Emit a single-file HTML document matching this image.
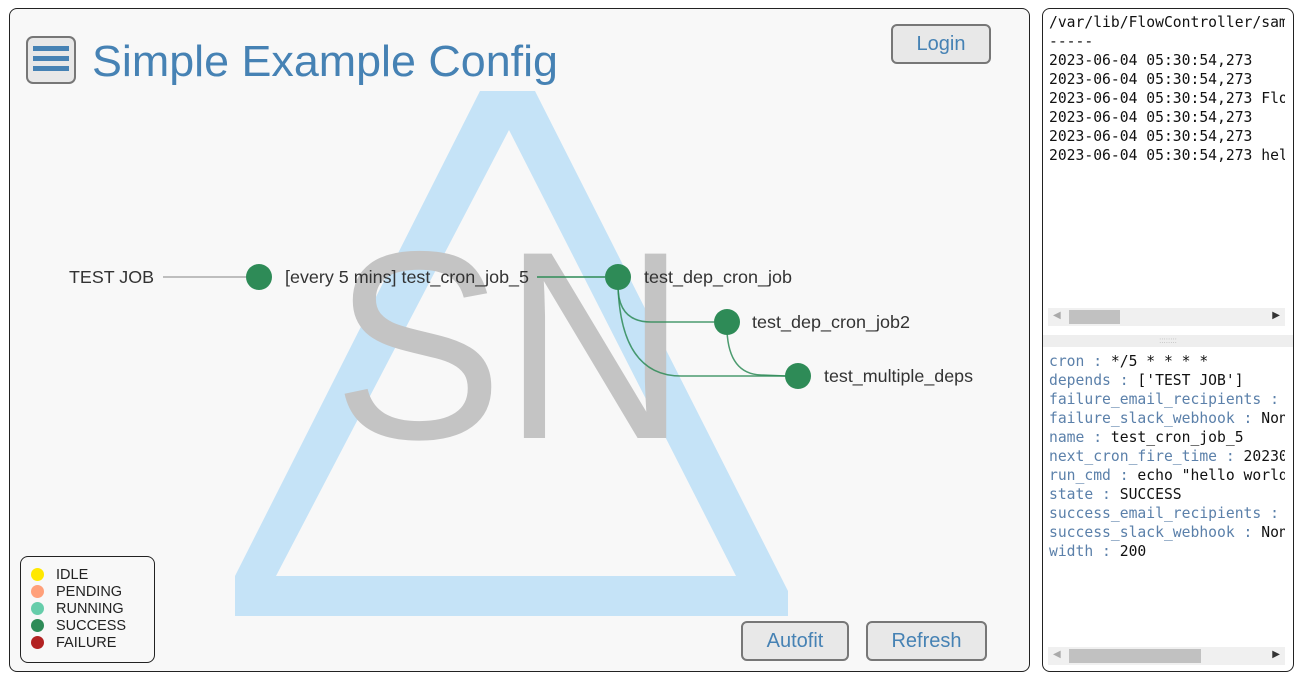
<!DOCTYPE html>
<html><head><meta charset="utf-8"><style>
body{margin:0;width:1301px;height:673px;background:#fff;position:relative;overflow:hidden;font-family:"Liberation Sans",sans-serif}
.main{position:absolute;left:9px;top:8px;width:1019px;height:662px;border:1px solid #222;border-radius:8px;background:#f8f8f8;overflow:hidden}
.side{position:absolute;left:1042px;top:8px;width:250px;height:662px;border:1px solid #222;border-radius:8px;background:#fff;overflow:hidden}
.btn{position:absolute;background:#e8e8e8;border:2px solid #777;border-radius:6px;color:#4682b4;font-size:20px;text-align:center;box-sizing:border-box}
.mono{font-family:"DejaVu Sans Mono","Liberation Mono",monospace;font-size:14.7px;line-height:19px;white-space:pre;position:absolute;left:6px;width:236px;overflow:hidden;color:#111}
.k{color:#5b80aa}
.sb{position:absolute;left:5px;width:237px;height:18px;background:#f0f0f0}
.th{position:absolute;top:2px;height:14px;background:#c1c1c1}
</style></head><body>
<div class="main">
<svg width="1019" height="662" style="position:absolute;left:0;top:0">
<g transform="translate(-9,-8)">
<path fill-rule="evenodd" fill="#c5e3f7" d="M479,90 L534,90 L787,590 L787,615 L234,615 L234,575 Z M508,129 L735,575 L275,575 Z"/>
<rect x="85" y="24" width="475" height="64" fill="#f8f8f8" opacity="0.6"/>
<text x="332" y="437" font-family="Liberation Sans" font-size="268" fill="#c4c4c4" textLength="354" lengthAdjust="spacingAndGlyphs">SN</text>
<line x1="162" y1="276" x2="245" y2="276" stroke="#aaa" stroke-width="1.5"/>
<line x1="536" y1="276" x2="604" y2="276" stroke="#2e8b57" stroke-width="1.5"/>
<path d="M617,285 Q617,321 650,321 L713,321" fill="none" stroke="#2e8b57" stroke-width="1.5" opacity="0.85"/>
<path d="M617,285 Q620,375 680,375 L785,375" fill="none" stroke="#2e8b57" stroke-width="1.5" opacity="0.85"/>
<path d="M726,330 Q728,373 760,374 L785,375" fill="none" stroke="#2e8b57" stroke-width="1.5" opacity="0.85"/>
<g fill="#2e8b57"><circle cx="258" cy="276" r="13"/><circle cx="617" cy="276" r="13"/><circle cx="726" cy="321" r="13"/><circle cx="797" cy="375" r="13"/></g>
<g font-family="Liberation Sans" font-size="17.5" fill="#333">
<text x="68" y="282" textLength="85" lengthAdjust="spacingAndGlyphs">TEST JOB</text>
<text x="284" y="282" textLength="244" lengthAdjust="spacingAndGlyphs">[every 5 mins] test_cron_job_5</text>
<text x="643" y="282" textLength="148" lengthAdjust="spacingAndGlyphs">test_dep_cron_job</text>
<text x="751" y="327" textLength="158" lengthAdjust="spacingAndGlyphs">test_dep_cron_job2</text>
<text x="823" y="381" textLength="149" lengthAdjust="spacingAndGlyphs">test_multiple_deps</text>
</g>
<text x="91" y="75" font-family="Liberation Sans" font-size="44" fill="#4682b4" textLength="466" lengthAdjust="spacingAndGlyphs">Simple Example Config</text>
</g>
</svg>
<div class="btn" style="left:16px;top:27px;width:50px;height:48px;border-radius:7px"><div style="position:absolute;left:5px;top:8px;width:36px;height:5px;background:#4682b4;box-shadow:0 10px 0 #4682b4,0 20px 0 #4682b4"></div></div>
<div class="btn" style="left:881px;top:15px;width:100px;height:40px;line-height:36px">Login</div>
<div class="btn" style="left:731px;top:612px;width:108px;height:40px;line-height:36px">Autofit</div>
<div class="btn" style="left:856px;top:612px;width:121px;height:40px;line-height:36px">Refresh</div>
<div style="position:absolute;left:10px;top:547px;width:133px;height:105px;border:1px solid #222;border-radius:8px;font-size:14.5px;color:#222;line-height:17px">
<div style="position:absolute;left:10px;top:10px">
<div><span style="display:inline-block;width:13px;height:13px;border-radius:50%;background:#ffe800;vertical-align:-2px;margin-right:12px"></span>IDLE</div>
<div><span style="display:inline-block;width:13px;height:13px;border-radius:50%;background:#ffa07a;vertical-align:-2px;margin-right:12px"></span>PENDING</div>
<div><span style="display:inline-block;width:13px;height:13px;border-radius:50%;background:#66cdaa;vertical-align:-2px;margin-right:12px"></span>RUNNING</div>
<div><span style="display:inline-block;width:13px;height:13px;border-radius:50%;background:#2e8b57;vertical-align:-2px;margin-right:12px"></span>SUCCESS</div>
<div><span style="display:inline-block;width:13px;height:13px;border-radius:50%;background:#b22222;vertical-align:-2px;margin-right:12px"></span>FAILURE</div>
</div></div>
</div>
<div class="side">
<div class="mono" style="top:4px">/var/lib/FlowController/sam
-----
2023-06-04 05:30:54,273
2023-06-04 05:30:54,273
2023-06-04 05:30:54,273 Flo
2023-06-04 05:30:54,273
2023-06-04 05:30:54,273
2023-06-04 05:30:54,273 hel</div>
<div class="sb" style="top:299px"><div class="th" style="left:21px;width:51px"></div><span style="position:absolute;left:5px;top:2px;font-size:10px;color:#aaa">◀</span><span style="position:absolute;right:5px;top:2px;font-size:10px;color:#333">▶</span></div>
<div style="position:absolute;left:0;top:326px;width:250px;height:12px;background:#eee;text-align:center;font-size:8px;color:#bbb;line-height:12px">::::::::</div>
<div class="mono" style="top:343px"><span class="k">cron :</span> */5 * * * *
<span class="k">depends :</span> ['TEST JOB']
<span class="k">failure_email_recipients :</span>
<span class="k">failure_slack_webhook :</span> Non
<span class="k">name :</span> test_cron_job_5
<span class="k">next_cron_fire_time :</span> 20230
<span class="k">run_cmd :</span> echo "hello world
<span class="k">state :</span> SUCCESS
<span class="k">success_email_recipients :</span>
<span class="k">success_slack_webhook :</span> Non
<span class="k">width :</span> 200</div>
<div class="sb" style="top:638px"><div class="th" style="left:21px;width:132px"></div><span style="position:absolute;left:5px;top:2px;font-size:10px;color:#aaa">◀</span><span style="position:absolute;right:5px;top:2px;font-size:10px;color:#333">▶</span></div>
</div>
</body></html>
